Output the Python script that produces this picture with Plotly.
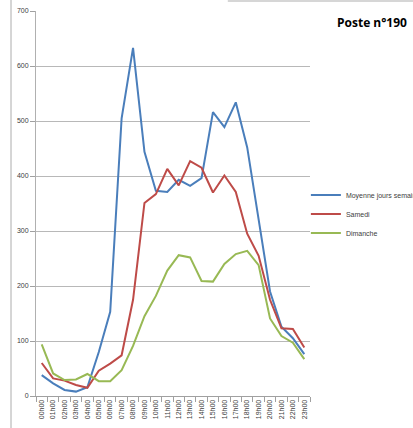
import plotly.graph_objects as go

hours = ["00h00", "01h00", "02h00", "03h00", "04h00", "05h00", "06h00", "07h00",
         "08h00", "09h00", "10h00", "11h00", "12h00", "13h00", "14h00", "15h00",
         "16h00", "17h00", "18h00", "19h00", "20h00", "21h00", "22h00", "23h00"]
semaine = [38, 23, 11, 8, 16, 80, 153, 505, 633, 444, 373, 371, 393, 382, 396, 516,
           489, 534, 452, 320, 190, 126, 105, 76]
samedi = [60, 32, 28, 20, 15, 46, 59, 74, 175, 351, 367, 413, 383, 427, 415, 370,
          401, 371, 295, 255, 175, 123, 122, 88]
dimanche = [94, 41, 29, 30, 40, 27, 27, 47, 91, 145, 182, 228, 256, 252, 209, 208,
            240, 258, 264, 238, 141, 109, 97, 67]
y_ticks = [0, 100, 200, 300, 400, 500, 600, 700]

fig = go.Figure()
fig.add_trace(go.Scatter(x=hours, y=semaine, mode="lines", name="Moyenne jours semaine",
                         line=dict(color="#4a7ebb", width=2)))
fig.add_trace(go.Scatter(x=hours, y=samedi, mode="lines", name="Samedi",
                         line=dict(color="#be4b48", width=2)))
fig.add_trace(go.Scatter(x=hours, y=dimanche, mode="lines", name="Dimanche",
                         line=dict(color="#98b954", width=2)))

fig.update_layout(
    width=413, height=428,
    margin=dict(l=36, r=103, t=11, b=32, autoexpand=False),
    paper_bgcolor="white", plot_bgcolor="white",
    font=dict(family="Liberation Sans", size=7, color="#404040"),
    showlegend=True,
    legend=dict(x=0.985, y=0.473, xanchor="left", yanchor="middle",
                font=dict(size=7, color="#404040"), bgcolor="rgba(0,0,0,0)",
                itemwidth=30, tracegroupgap=0),
    xaxis=dict(type="category", tickson="boundaries", ticks="outside", ticklen=5,
               tickcolor="#a0a0a0", showline=True, linecolor="#a0a0a0", linewidth=1,
               showgrid=False, tickangle=-90, tickfont=dict(size=7),
               range=[-0.5, 23.5], fixedrange=True),
    yaxis=dict(range=[0, 700], tickvals=y_ticks, ticks="outside", ticklen=5,
               tickcolor="#a0a0a0", showline=True, linecolor="#b0b0b0", linewidth=1,
               showgrid=True, gridcolor="#b8b8b8", gridwidth=1, zeroline=False,
               tickfont=dict(size=7)),
    annotations=[dict(text="<b>Poste n°190</b>", xref="paper", yref="paper",
                      x=1.226, y=0.971, xanchor="center", yanchor="middle",
                      showarrow=False, font=dict(family="Open Sans", size=12, color="black"))],
    shapes=[
        dict(type="line", xref="paper", yref="paper", x0=-0.0912, x1=-0.0912,
             y0=-0.09, y1=1.03, line=dict(color="#c8c8c8", width=1.5)),
        dict(type="line", xref="paper", yref="paper", x0=0.70, x1=1.38,
             y0=1.026, y1=1.026, line=dict(color="#c8c8c8", width=1.5)),
    ],
)

fig.write_html("out.html", config={"displayModeBar": False},
               post_script="document.body.style.margin='0';")
